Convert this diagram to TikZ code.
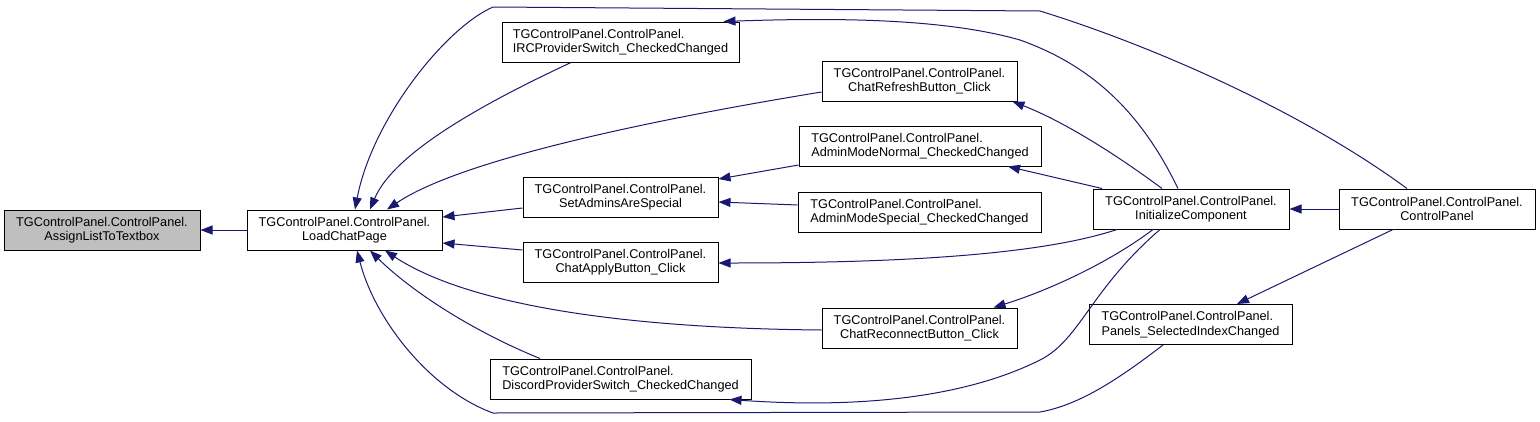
\documentclass[tikz,border=0pt]{standalone}
\usepackage{fontspec}
\setmainfont{Liberation Sans}
\usetikzlibrary{arrows.meta,calc}
\definecolor{edgeblue}{HTML}{191970}
\definecolor{rootgray}{HTML}{BFBFBF}
\begin{document}
\begin{tikzpicture}[x=1pt,y=-1pt,
  box/.style={draw=black, line width=1pt, fill=white, minimum height=40pt, inner sep=2pt,
              font=\fontsize{12.7}{14.5}\selectfont, align=center},
  lbox/.style={box, align=left},
  edge/.style={draw=edgeblue, line width=1pt, -{Triangle[length=12pt,width=9pt]}}]
\useasboundingbox (0,0) rectangle (1540,421);

\node[box, fill=rootgray, minimum width=196pt] (A) at (102,230) {TGControlPanel.ControlPanel.\\AssignListToTextbox};
\node[box, minimum width=195pt] (L) at (344.5,230) {TGControlPanel.ControlPanel.\\LoadChatPage};
\node[lbox, minimum width=237pt] (IRC) at (620.5,42) {TGControlPanel.ControlPanel.\\IRCProviderSwitch\_CheckedChanged};
\node[box, minimum width=195pt] (CR) at (919.5,81) {TGControlPanel.ControlPanel.\\ChatRefreshButton\_Click};
\node[lbox, minimum width=242pt] (AMN) at (920,146) {TGControlPanel.ControlPanel.\\AdminModeNormal\_CheckedChanged};
\node[lbox, minimum width=243pt] (AMS) at (919.5,212) {TGControlPanel.ControlPanel.\\AdminModeSpecial\_CheckedChanged};
\node[box, minimum width=195pt] (SA) at (620.5,197) {TGControlPanel.ControlPanel.\\SetAdminsAreSpecial};
\node[box, minimum width=195pt] (CA) at (620.5,262) {TGControlPanel.ControlPanel.\\ChatApplyButton\_Click};
\node[box, minimum width=195pt] (CRc) at (919.5,328) {TGControlPanel.ControlPanel.\\ChatReconnectButton\_Click};
\node[lbox, minimum width=261pt] (DC) at (620.5,379) {TGControlPanel.ControlPanel.\\DiscordProviderSwitch\_CheckedChanged};
\node[box, minimum width=196pt] (IC) at (1191,209) {TGControlPanel.ControlPanel.\\InitializeComponent};
\node[box, minimum width=196pt] (CP) at (1437,209) {TGControlPanel.ControlPanel.\\ControlPanel};
\node[lbox, minimum width=203pt] (PS) at (1190.5,324.5) {TGControlPanel.ControlPanel.\\Panels\_SelectedIndexChanged};

\draw[edge] (L.west) -- (A.east);
\draw[edge] ($(CP.north)+(-30,0)$) .. controls (1300,110) and (1150,45) .. (1040,11) -- (493,7) .. controls (445,28) and (372,120) .. ($(L.north)+(10.5,0)$);
\draw[edge] ($(IRC.south)+(-49.5,0)$) .. controls (495,98) and (395,150) .. ($(L.north)+(25.5,0)$);
\draw[edge] ($(CR.west)+(0,11)$) .. controls (650,120) and (460,160) .. ($(L.north)+(42.5,0)$);
\draw[edge] ($(SA.west)+(0,11)$) -- ($(L.east)+(0,-13)$);
\draw[edge] ($(CA.west)+(0,-12)$) -- ($(L.east)+(0,13)$);
\draw[edge] ($(CRc.west)+(0,2)$) .. controls (600,328) and (460,300) .. ($(L.south)+(40.5,0)$);
\draw[edge] ($(DC.north)+(-80.5,0)$) .. controls (470,330) and (410,290) .. ($(L.south)+(25.5,0)$);
\draw[edge] ($(PS.south)+(-27.5,0)$) .. controls (1120,378) and (1080,405) .. (1040,412) -- (493,413) .. controls (430,390) and (375,320) .. ($(L.south)+(12.5,0)$);
\draw[edge] ($(IC.north)+(-13,0)$) .. controls (1140,110) and (1090,65) .. (1020,40) .. controls (950,20) and (850,17) .. ($(IRC.north east)+(-16,0)$);
\draw[edge] ($(IC.north)+(-29,0)$) .. controls (1110,150) and (1060,120) .. ($(CR.south east)+(-5,0)$);
\draw[edge] ($(IC.north)+(-89,0)$) -- ($(AMN.south)+(88,0)$);
\draw[edge] ($(IC.south)+(-74,0)$) .. controls (1040,255) and (900,263) .. ($(CA.east)+(0,1)$);
\draw[edge] ($(IC.south)+(-38,0)$) .. controls (1110,262) and (1050,290) .. ($(CRc.north east)+(-24,0)$);
\draw[edge] ($(IC.south)+(-31,0)$) .. controls (1090,290) and (1080,340) .. (1040,360) .. controls (960,400) and (850,408) .. ($(DC.south east)+(-22,0)$);
\draw[edge] (CP.west) -- (IC.east);
\draw[edge] ($(CP.south)+(-44,0)$) -- ($(PS.north)+(46.5,0)$);
\draw[edge] ($(AMN.west)+(0,19)$) -- ($(SA.east)+(0,-18)$);
\draw[edge] ($(AMS.west)+(0,-7)$) -- ($(SA.east)+(0,5)$);
\end{tikzpicture}
\end{document}
